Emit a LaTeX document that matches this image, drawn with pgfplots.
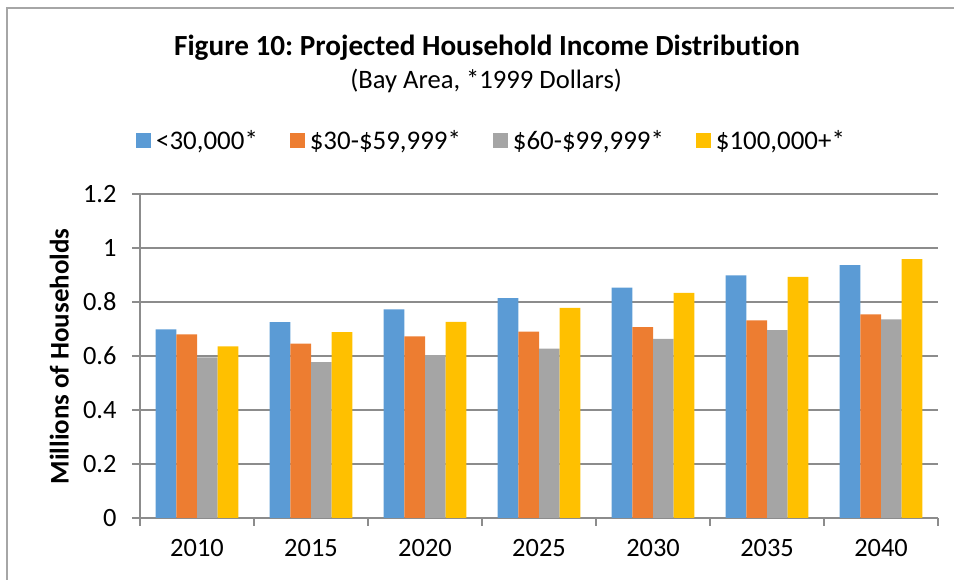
\documentclass[border=0pt]{standalone}
\usepackage{fontspec}
\setmainfont{Carlito}[Ligatures={NoCommon}]
\usepackage{pgfplots}
\pgfplotsset{compat=1.18}
\frenchspacing

\definecolor{cblue}{HTML}{5B9BD5}
\definecolor{corange}{HTML}{ED7D31}
\definecolor{cgray}{HTML}{A5A5A5}
\definecolor{cyellow}{HTML}{FFC000}
\definecolor{gridgray}{HTML}{8C8C8C}
\definecolor{framegray}{HTML}{A6A6A6}

\begin{document}
\begin{tikzpicture}[x=1bp,y=1bp]
\useasboundingbox (0,0) rectangle (954,580);
\draw[framegray, line width=1.5bp] (7,-20) -- (7,572) -- (1000,572);

\node[anchor=base, font=\bfseries\fontsize{29.3}{34}\selectfont] at (487,524.3)
  {Figure 10: Projected Household Income Distribution};
\node[anchor=base, font=\fontsize{26.7}{31}\selectfont] at (486.2,491.7)
  {(Bay Area, *1999 Dollars)};
\node[rotate=90, anchor=base, font=\bfseries\fontsize{27}{32}\selectfont] at (68.5,223.5)
  {Millions of Households};

\begin{axis}[
    at={(140bp,62bp)}, anchor=south west,
    scale only axis,
    width=798bp, height=324bp,
    ybar=0pt, bar width=20.67bp,
    xmin=-0.5, xmax=6.5,
    ymin=0, ymax=1.2,
    axis lines*=left,
    axis line style={gridgray, line width=1.5bp},
    xtick={-0.5,0.5,1.5,2.5,3.5,4.5,5.5,6.5},
    xticklabels={},
    extra x ticks={0,1,2,3,4,5,6},
    extra x tick labels={2010,2015,2020,2025,2030,2035,2040},
    extra x tick style={major tick length=0pt, grid=none},
    xticklabel style={yshift=-18bp},
    ytick={0,0.2,0.4,0.6,0.8,1,1.2},
    yticklabel style={xshift=-12bp},
    ymajorgrids,
    grid style={gridgray, line width=1.5bp},
    tick align=outside,
    major tick length=8bp,
    tick style={gridgray, line width=1.5bp},
    ticklabel style={font=\fontsize{26.5}{31}\selectfont},
    /pgf/number format/assume math mode=true,
    legend columns=4,
    legend style={
        at={(0.4405,1.165)}, anchor=center,
        draw=none, fill=none,
        font=\fontsize{27}{32}\selectfont,
        /tikz/every odd column/.append style={column sep=3bp},
        /tikz/every even column/.append style={column sep=30bp},
    },
    legend image code/.code={\fill[#1] (0bp,-7.5bp) rectangle (15bp,7.5bp);},
]
\addplot[fill=cblue, draw=none] coordinates {
(0,0.699) (1,0.725) (2,0.773) (3,0.814) (4,0.853) (5,0.899) (6,0.937)};
\addplot[fill=corange, draw=none] coordinates {
(0,0.680) (1,0.646) (2,0.673) (3,0.690) (4,0.707) (5,0.732) (6,0.754)};
\addplot[fill=cgray, draw=none] coordinates {
(0,0.595) (1,0.577) (2,0.603) (3,0.627) (4,0.663) (5,0.696) (6,0.736)};
\addplot[fill=cyellow, draw=none] coordinates {
(0,0.636) (1,0.688) (2,0.726) (3,0.778) (4,0.834) (5,0.893) (6,0.959)};
\legend{{<30,000*}, {\$30-\$59,999*}, {\$60-\$99,999*}, {\$100,000+*}}
\end{axis}
\end{tikzpicture}
\end{document}
